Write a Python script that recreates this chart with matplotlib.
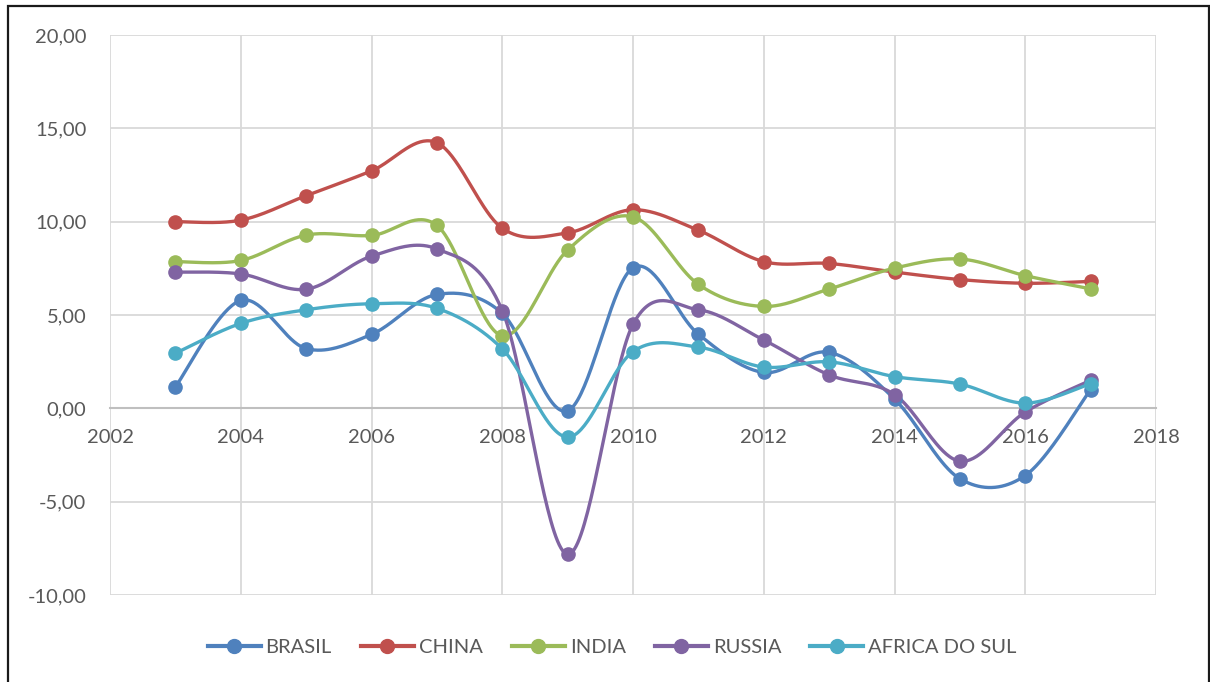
import numpy as np
import matplotlib
matplotlib.use('Agg')
import matplotlib.pyplot as plt
from matplotlib.ticker import FuncFormatter, MultipleLocator
from matplotlib.lines import Line2D
from matplotlib.patches import Rectangle

years = list(range(2003, 2018))
brasil = [1.15, 5.78, 3.2, 3.96, 6.1, 5.09, -0.13, 7.53, 3.97, 1.92, 3.0, 0.5, -3.77, -3.6, 1.0]
china = [10.0, 10.08, 11.39, 12.72, 14.23, 9.65, 9.4, 10.64, 9.54, 7.86, 7.76, 7.3, 6.9, 6.7, 6.8]
india = [7.86, 7.92, 9.28, 9.26, 9.8, 3.89, 8.48, 10.26, 6.64, 5.46, 6.39, 7.51, 8.0, 7.11, 6.4]
russia = [7.3, 7.2, 6.38, 8.15, 8.54, 5.24, -7.82, 4.5, 5.28, 3.66, 1.79, 0.74, -2.83, -0.2, 1.5]
africa = [2.95, 4.55, 5.28, 5.6, 5.36, 3.19, -1.54, 3.04, 3.28, 2.21, 2.49, 1.7, 1.3, 0.28, 1.32]

series_names = ["BRASIL", "CHINA", "INDIA", "RUSSIA", "AFRICA DO SUL"]
series_values = [brasil, china, india, russia, africa]
colors = ["#4F81BD", "#C0504D", "#9BBB59", "#8064A2", "#4BACC6"]

x_ticks = list(range(2002, 2019, 2))
y_ticks = list(range(-10, 21, 5))

FONT = "Lato"
FS = 14.5
TXT = "#595959"


def smooth(x, y, n=40):
    P = np.column_stack([np.asarray(x, float), np.asarray(y, float)])
    E = np.vstack([P[0], P, P[-1]])
    t = np.linspace(0, 1, n)[:, None]
    out = []
    for i in range(len(P) - 1):
        p0, p1, p2, p3 = E[i], E[i + 1], E[i + 2], E[i + 3]
        b1 = p1 + (p2 - p0) / 6.0
        b2 = p2 - (p3 - p1) / 6.0
        seg = (1 - t) ** 3 * p1 + 3 * (1 - t) ** 2 * t * b1 + 3 * (1 - t) * t ** 2 * b2 + t ** 3 * p2
        out.append(seg if i == 0 else seg[1:])
    S = np.vstack(out)
    return S[:, 0], S[:, 1]


W, H = 1210, 682
fig = plt.figure(figsize=(W / 100, H / 100), dpi=100)
fig.patch.set_facecolor("white")
ax = fig.add_axes([110 / W, 1 - 595 / H, (1156 - 110) / W, (595 - 35) / H])

for name, vals, c in zip(series_names, series_values, colors):
    sx, sy = smooth(years, vals)
    ax.plot(sx, sy, color=c, lw=2.4, solid_capstyle="round", zorder=3)
    ax.plot(years, vals, linestyle="none", marker="o", ms=9.5, color=c, zorder=4)

ax.set_xlim(2002, 2018)
ax.set_ylim(-10, 20)
ax.set_xticks(x_ticks)
ax.set_yticks(y_ticks)
ax.yaxis.set_major_formatter(FuncFormatter(lambda v, p: f"{v:.2f}".replace(".", ",")))
ax.xaxis.set_major_formatter(FuncFormatter(lambda v, p: f"{int(v)}"))
ax.grid(True, color="#D9D9D9", lw=1.3, zorder=0)
ax.set_axisbelow(True)
for s in ["top", "right", "left"]:
    ax.spines[s].set_visible(False)
ax.spines["bottom"].set_position(("data", 0))
ax.spines["bottom"].set_color("#BFBFBF")
ax.spines["bottom"].set_linewidth(1.5)
ax.spines["bottom"].set_zorder(1)
ax.tick_params(axis="both", length=0, labelsize=FS, labelcolor=TXT)
ax.tick_params(axis="x", pad=15)
ax.tick_params(axis="y", pad=17)
for lab in ax.get_xticklabels() + ax.get_yticklabels():
    lab.set_fontfamily(FONT)

handles = [Line2D([0], [0], color=c, lw=3, marker="o", ms=10) for c in colors]
fs_px = FS * 100 / 72
fig.legend(handles, series_names, loc="center", bbox_to_anchor=(612 / W, 1 - 647 / H),
           ncol=5, frameon=False, handlelength=53 / fs_px, handletextpad=5 / fs_px,
           columnspacing=29 / fs_px, prop={"family": FONT, "size": FS}, labelcolor=TXT)

border = Rectangle((7.5 / W, -0.02), (1208.5 - 7.5) / W, 1 - 5.5 / H + 0.02,
                   transform=fig.transFigure, fill=False, edgecolor="#1a1a1a", lw=1.6, clip_on=False)
fig.patches.append(border)

fig.savefig("out.png", dpi=100)
